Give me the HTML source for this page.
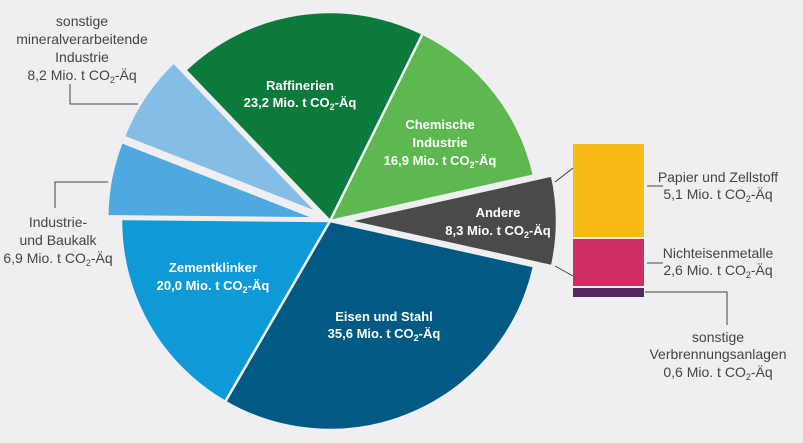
<!DOCTYPE html>
<html><head><meta charset="utf-8"><style>
html,body{margin:0;padding:0;background:#efeff1;}
svg{display:block;font-family:"Liberation Sans",sans-serif;}
.w{fill:#fff;font-size:13px;font-weight:bold;text-anchor:middle;}
.g{fill:#444;font-size:14px;text-anchor:middle;}
</style></head><body>
<svg id="s" width="803" height="443" viewBox="0 0 803 443">
<rect width="803" height="443" fill="#efeff1"/>
<g id="pie"></g>
<rect x="573" y="144" width="71" height="93" fill="#f9b919"/>
<rect x="573" y="239" width="71" height="47" fill="#cf2e65"/>
<rect x="573" y="288" width="71" height="9" fill="#55285f"/>
<g stroke="#444" stroke-width="1" fill="none">
<line x1="555" y1="182" x2="573" y2="168"/>
<line x1="555" y1="266" x2="573" y2="276"/>
<line x1="647" y1="186" x2="663" y2="186"/>
<line x1="647" y1="263" x2="663" y2="263"/>
<polyline points="645,292 727,292 727,325"/>
<polyline points="70,84 70,104 138,104"/>
<polyline points="55,208 55,182 108,182"/>
</g>
<text class="w" x="300" y="90">Raffinerien</text>
<text class="w" x="300" y="107">23,2 Mio. t CO<tspan font-size="9" dy="3">2</tspan><tspan dy="-3">-Äq</tspan></text>
<text class="w" x="440" y="129">Chemische</text>
<text class="w" x="440" y="147">Industrie</text>
<text class="w" x="440" y="165">16,9 Mio. t CO<tspan font-size="9" dy="3">2</tspan><tspan dy="-3">-Äq</tspan></text>
<text class="w" x="498" y="217">Andere</text>
<text class="w" x="498" y="235">8,3 Mio. t CO<tspan font-size="9" dy="3">2</tspan><tspan dy="-3">-Äq</tspan></text>
<text class="w" x="213" y="272">Zementklinker</text>
<text class="w" x="213" y="290">20,0 Mio. t CO<tspan font-size="9" dy="3">2</tspan><tspan dy="-3">-Äq</tspan></text>
<text class="w" x="384" y="321">Eisen und Stahl</text>
<text class="w" x="384" y="338">35,6 Mio. t CO<tspan font-size="9" dy="3">2</tspan><tspan dy="-3">-Äq</tspan></text>
<text class="g" x="82" y="26">sonstige</text>
<text class="g" x="82" y="44">mineralverarbeitende</text>
<text class="g" x="82" y="62">Industrie</text>
<text class="g" x="82" y="80">8,2 Mio. t CO<tspan font-size="9" dy="3">2</tspan><tspan dy="-3">-Äq</tspan></text>
<text class="g" x="58" y="227">Industrie-</text>
<text class="g" x="58" y="245">und Baukalk</text>
<text class="g" x="58" y="263">6,9 Mio. t CO<tspan font-size="9" dy="3">2</tspan><tspan dy="-3">-Äq</tspan></text>
<text class="g" x="718" y="182">Papier und Zellstoff</text>
<text class="g" x="718" y="199">5,1 Mio. t CO<tspan font-size="9" dy="3">2</tspan><tspan dy="-3">-Äq</tspan></text>
<text class="g" x="718" y="258">Nichteisenmetalle</text>
<text class="g" x="718" y="275">2,6 Mio. t CO<tspan font-size="9" dy="3">2</tspan><tspan dy="-3">-Äq</tspan></text>
<text class="g" x="718" y="342">sonstige</text>
<text class="g" x="718" y="359">Verbrennungsanlagen</text>
<text class="g" x="718" y="377">0,6 Mio. t CO<tspan font-size="9" dy="3">2</tspan><tspan dy="-3">-Äq</tspan></text>
</svg>
<script>
var cx=330,cy=221,r=209;
var d=[[35.6,"#005a84",0],[20,"#0e9ad6",0],[6.9,"#4fa9e0",14],[8.2,"#84bde6",14],[23.2,"#0b7a3a",0],[16.9,"#5cb84f",0],[8.3,"#4a4a4a",18]];
var tot=0;d.forEach(function(x){tot+=x[0];});
var a=12.5*Math.PI/180,h="";
d.forEach(function(x){
 var b=a+x[0]/tot*2*Math.PI,m=(a+b)/2;
 var ox=cx+x[2]*Math.cos(m),oy=cy+x[2]*Math.sin(m);
 var x1=ox+r*Math.cos(a),y1=oy+r*Math.sin(a),x2=ox+r*Math.cos(b),y2=oy+r*Math.sin(b);
 h+='<path d="M'+ox+' '+oy+'L'+x1+' '+y1+'A'+r+' '+r+' 0 '+((b-a)>Math.PI?1:0)+' 1 '+x2+' '+y2+'Z" fill="'+x[1]+'" stroke="#efeff1" stroke-width="2.5" stroke-linejoin="round"/>';
 a=b;});
document.getElementById("pie").innerHTML=h;
</script>
</body></html>
